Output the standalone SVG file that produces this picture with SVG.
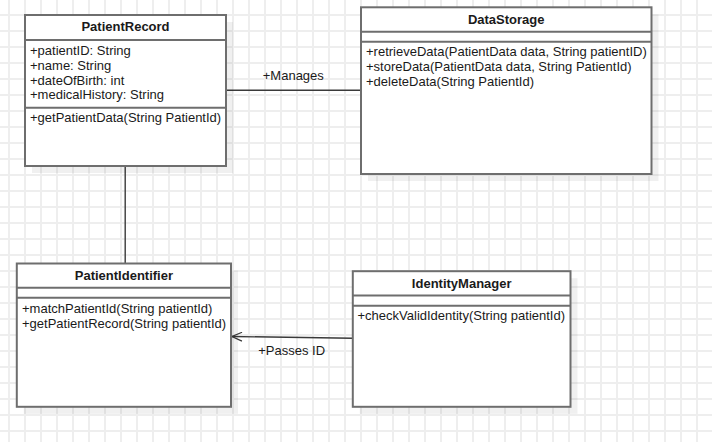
<svg xmlns="http://www.w3.org/2000/svg" width="712" height="442" viewBox="0 0 712 442">
<style>
.box{fill:#ffffff;stroke:#6e6e6e;stroke-width:2}
.sep{stroke:#6e6e6e;stroke-width:2}
.shadow{fill:#000000;opacity:0.06}
.title{font-family:"Liberation Sans",Arial,sans-serif;font-size:13px;font-weight:bold;fill:#1a1a1a;text-anchor:middle}
.txt{font-family:"Liberation Sans",Arial,sans-serif;font-size:13px;fill:#1a1a1a}
.lbl{font-family:"Liberation Sans",Arial,sans-serif;font-size:13px;fill:#1a1a1a;text-anchor:middle}
.conn{stroke:#3a3a3a;stroke-width:1.4;fill:none}
</style>
<defs>
<pattern id="grid" x="1" y="7" width="16" height="16" patternUnits="userSpaceOnUse">
<rect x="7" y="0" width="2" height="16" fill="#eeeeee"/>
<rect x="0" y="7" width="16" height="2" fill="#eeeeee"/>
</pattern>
<marker id="open" viewBox="0 0 12 10" refX="11" refY="5" markerWidth="12" markerHeight="10" markerUnits="userSpaceOnUse" orient="auto">
<path d="M1,0.6 L11,5 L1,9.4" fill="none" stroke="#3a3a3a" stroke-width="1.3"/>
</marker>
</defs>
<rect x="0" y="0" width="712" height="442" fill="#ffffff"/>
<rect x="0" y="0" width="712" height="442" fill="url(#grid)"/>

<g id="connectors">
<line class="conn" x1="226" y1="90.2" x2="361" y2="90.2"/>
<text class="lbl" x="293.3" y="80">+Manages</text>
<line class="conn" x1="125.2" y1="166" x2="125.2" y2="263"/>
<line class="conn" x1="352.8" y1="338.2" x2="232" y2="336.5" marker-end="url(#open)"/>
<text class="lbl" x="291.7" y="354.7">+Passes ID</text>
</g>

<g id="PatientRecord">
<rect class="shadow" x="32" y="22" width="201" height="151"/>
<rect class="box" x="25" y="15" width="201" height="151"/>
<line class="sep" x1="25" y1="40" x2="226" y2="40"/>
<line class="sep" x1="25" y1="107.7" x2="226" y2="107.7"/>
<text class="title" x="125.5" y="31">PatientRecord</text>
<text class="txt" x="30" y="55">+patientID: String</text>
<text class="txt" x="30" y="70">+name: String</text>
<text class="txt" x="30" y="84.5">+dateOfBirth: int</text>
<text class="txt" x="30" y="99.3">+medicalHistory: String</text>
<text class="txt" x="30" y="122.3">+getPatientData(String PatientId)</text>
</g>

<g id="DataStorage">
<rect class="shadow" x="368" y="14.3" width="290.5" height="166.7"/>
<rect class="box" x="361" y="7.3" width="290.5" height="166.7"/>
<line class="sep" x1="361" y1="31.7" x2="651.5" y2="31.7"/>
<line class="sep" x1="361" y1="41.7" x2="651.5" y2="41.7"/>
<text class="title" x="506.2" y="24">DataStorage</text>
<text class="txt" x="366" y="56">+retrieveData(PatientData data, String patientID)</text>
<text class="txt" x="366" y="71">+storeData(PatientData data, String PatientId)</text>
<text class="txt" x="366" y="86">+deleteData(String PatientId)</text>
</g>

<g id="PatientIdentifier">
<rect class="shadow" x="23.8" y="270.5" width="214.2" height="143.3"/>
<rect class="box" x="16.8" y="263.5" width="214.2" height="143.3"/>
<line class="sep" x1="16.8" y1="287.7" x2="231" y2="287.7"/>
<line class="sep" x1="16.8" y1="297.8" x2="231" y2="297.8"/>
<text class="title" x="123.9" y="279.5">PatientIdentifier</text>
<text class="txt" x="22" y="313.3">+matchPatientId(String patientId)</text>
<text class="txt" x="22" y="327.5">+getPatientRecord(String patientId)</text>
</g>

<g id="IdentityManager">
<rect class="shadow" x="359.8" y="278.2" width="217.7" height="135.6"/>
<rect class="box" x="352.8" y="271.2" width="217.7" height="135.6"/>
<line class="sep" x1="352.8" y1="295.5" x2="570.5" y2="295.5"/>
<line class="sep" x1="352.8" y1="305.8" x2="570.5" y2="305.8"/>
<text class="title" x="461.7" y="288">IdentityManager</text>
<text class="txt" x="357.5" y="320.3">+checkValidIdentity(String patientId)</text>
</g>
</svg>
